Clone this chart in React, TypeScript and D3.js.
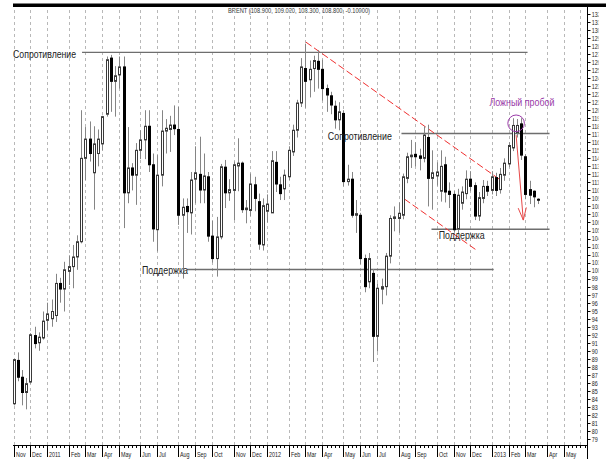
import React from 'react';
import * as d3 from 'd3';

const W = 606;
const H = 459;

const TITLE = 'BRENT (108.900, 109.020, 108.300, 108.800, -0.10000)';
const FIRST_WEEK = new Date(2010, 10, 7); // weekly bars, Sunday open

const opens = [
  83.4, 88.8, 86.7, 84.8, 86.1, 91.9, 91.0, 91.6, 93.8, 94.0,
  94.4, 98.4, 97.7, 99.9, 100.5, 101.7, 103.6, 114.0, 116.4, 112.2,
  114.6, 115.8, 119.5, 126.5, 123.6, 124.4, 125.4, 109.7, 112.8, 111.9,
  115.0, 116.3, 118.0, 113.2, 105.1, 111.9, 117.4, 117.6, 118.15, 117.6,
  106.9, 108.0, 107.2, 111.4, 112.0, 110.05, 111.7, 104.3, 101.5, 104.2,
  112.9, 109.7, 110.0, 113.05, 113.4, 107.6, 107.5, 110.7, 108.6, 103.2,
  107.4, 107.2, 113.5, 110.7, 110.2, 111.7, 114.8, 117.5, 120.9, 125.2,
  123.8, 125.2, 126.1, 125.1, 122.7, 121.8, 120.5, 118.8, 119.6, 111.1,
  111.4, 106.9, 106.9, 101.5, 98.6, 99.65, 91.8, 97.7, 98.0, 101.8,
  106.5, 106.5, 106.9, 111.5, 114.2, 114.5, 114.3, 114.0, 116.6, 111.5,
  111.8, 109.9, 113.2, 109.9, 109.5, 105.2, 108.4, 109.6, 111.4, 110.6,
  106.8, 109.0, 110.5, 110.0, 111.6, 110.1, 111.9, 113.3, 115.3, 117.2,
  118.3, 114.2, 110.1, 109.9, 108.9,
];
const highs = [
  89.0, 89.8, 87.6, 86.6, 92.2, 93.0, 92.3, 94.9, 96.0, 96.4,
  99.6, 99.1, 101.1, 101.9, 103.2, 104.4, 120.0, 117.9, 118.6, 118.0,
  117.6, 119.3, 126.7, 126.9, 125.5, 126.7, 126.7, 117.9, 113.4, 115.9,
  117.5, 120.0, 120.0, 114.6, 114.4, 120.0, 118.9, 119.3, 120.6, 120.4,
  109.0, 109.0, 112.3, 115.5, 116.7, 114.6, 112.3, 106.2, 106.7, 113.3,
  113.8, 111.4, 113.6, 116.5, 113.6, 108.8, 112.1, 111.7, 109.6, 109.0,
  109.5, 114.9, 114.9, 111.7, 112.6, 115.5, 118.2, 121.3, 126.5, 128.3,
  126.2, 126.8, 127.5, 126.3, 123.2, 122.3, 121.2, 121.0, 120.0, 113.2,
  112.3, 108.8, 107.2, 102.0, 102.2, 100.2, 98.4, 99.0, 102.2, 106.9,
  108.0, 108.5, 112.1, 114.7, 116.3, 116.0, 115.2, 118.0, 118.2, 115.0,
  113.5, 115.0, 114.2, 111.0, 109.9, 110.2, 110.5, 112.5, 112.4, 111.0,
  109.8, 111.3, 111.2, 112.4, 112.2, 112.8, 114.0, 116.0, 119.0, 118.9,
  119.0, 114.5, 111.2, 110.0, 109.02,
];
const lows = [
  83.2, 86.2, 83.2, 82.7, 85.9, 90.3, 90.0, 91.4, 92.6, 93.0,
  93.6, 96.0, 94.9, 98.2, 97.8, 100.1, 103.4, 111.3, 113.6, 107.6,
  113.0, 115.0, 119.2, 119.8, 119.2, 122.7, 105.3, 108.4, 110.0, 108.2,
  113.9, 113.9, 112.3, 103.6, 102.4, 110.5, 114.6, 114.8, 116.9, 105.7,
  99.0, 104.7, 104.5, 108.4, 108.4, 108.4, 103.6, 101.0, 99.25, 103.9,
  107.8, 108.7, 106.3, 109.9, 107.2, 105.9, 106.8, 107.4, 102.6, 102.5,
  106.0, 107.2, 109.8, 108.8, 108.8, 111.3, 114.3, 116.6, 120.4, 120.3,
  121.6, 122.3, 122.7, 121.2, 119.8, 119.5, 117.7, 117.5, 110.5, 110.6,
  106.6, 104.7, 100.8, 97.3, 97.8, 88.6, 89.9, 95.8, 96.9, 100.9,
  104.9, 104.7, 106.4, 110.9, 112.8, 113.0, 112.5, 113.5, 108.0, 107.6,
  110.6, 108.6, 108.5, 107.8, 104.8, 104.6, 107.6, 108.9, 109.9, 106.3,
  106.2, 108.4, 109.3, 109.5, 109.3, 109.6, 111.2, 112.9, 114.9, 116.6,
  113.8, 108.9, 108.3, 107.9, 108.3,
];
const closes = [
  88.9, 86.7, 84.8, 85.9, 92.0, 90.9, 91.7, 93.7, 94.6, 94.9,
  98.4, 97.7, 100.1, 100.5, 101.7, 103.6, 114.0, 116.4, 114.6, 115.8,
  116.4, 119.2, 126.3, 123.6, 124.3, 125.4, 109.7, 112.8, 111.9, 115.0,
  116.3, 118.0, 113.2, 105.2, 111.9, 117.4, 117.75, 118.15, 117.7, 106.9,
  107.9, 107.35, 111.3, 112.2, 110.05, 111.8, 104.3, 101.5, 104.2, 112.95,
  109.7, 110.1, 113.2, 113.4, 107.6, 107.8, 110.8, 109.0, 103.3, 108.1,
  108.3, 113.7, 110.8, 109.6, 111.9, 115.0, 117.5, 120.9, 125.4, 123.6,
  125.1, 126.2, 125.1, 122.7, 121.9, 120.65, 118.8, 119.8, 111.1, 111.4,
  106.9, 107.1, 101.5, 98.0, 101.5, 91.8, 97.8, 98.0, 101.8, 106.5,
  106.7, 107.15, 111.7, 114.2, 114.4, 114.2, 114.0, 116.9, 111.5, 112.2,
  112.3, 113.0, 109.8, 109.5, 105.1, 109.4, 109.8, 111.4, 110.5, 106.8,
  109.1, 110.5, 109.9, 111.7, 110.0, 112.0, 113.4, 115.6, 118.1, 118.1,
  114.4, 109.5, 109.4, 109.2, 108.8,
];

const priceTicks = d3.range(79, 133);

// horizontal levels: price, from bar, to bar
const levelPrices = [127.22, 100.14, 117.1, 105.15];
const levelFrom = [16.2, 41.0, 91.7, 98.8];
const levelTo = [121.5, 113.5, 126.7, 126.7];

// annotation texts: label, bar position, baseline price
const noteTexts = ['Сопротивление', 'Поддержка', 'Сопротивление', 'Поддержка'];
const noteBars = [-0.1, 30.35, 74.3, 100.5];
const notePrices = [126.5, 99.58, 116.3, 104.0];
const noteWidths = [63, 46, 64, 46];

// red dashed channel
const channelUpper = [[69.1, 128.5], [115.1, 111.3]];
const channelLower = [[92.4, 108.93], [109.7, 102.45]];
// false breakout
const fakeText = 'Ложный пробой';
const fakeCircle = [118.8, 118.37];
const fakeTextPos = [112.5, 120.47];
const arrowFrom = [118.8, 116.9];
const arrowTo = [120.5, 106.3];

export default function App() {
  const x = d3.scaleLinear().domain([0, 130]).range([13.5, 563.5]);
  const y = d3.scaleLinear().domain([79, 132]).range([439, 14]);
  const crisp = (v: number) => Math.round(v) + 0.5;

  const nBars = opens.length;
  const dates = d3.range(136).map((i) => d3.timeWeek.offset(FIRST_WEEK, i));
  const monthStarts: number[] = [];
  dates.forEach((d, i) => {
    if (i === 0 || d.getMonth() !== dates[i - 1].getMonth()) monthStarts.push(i);
  });
  const fmtMon = d3.timeFormat('%b');
  const monthLabel = (d: Date) => (d.getMonth() === 0 ? String(d.getFullYear()) : fmtMon(d));

  const axisX = 587;
  const axisY = 445;
  const font = 'Liberation Sans, Arial, sans-serif';

  const ax = x(arrowTo[0]);
  const ay = y(arrowTo[1]);
  const ang = Math.atan2(y(arrowTo[1]) - y(arrowFrom[1]), x(arrowTo[0]) - x(arrowFrom[0]));
  const headL = 13;
  const headA = 0.32;
  const h1 = [ax - headL * Math.cos(ang - headA), ay - headL * Math.sin(ang - headA)];
  const h2 = [ax - headL * Math.cos(ang + headA), ay - headL * Math.sin(ang + headA)];

  return (
    <svg
      width={W}
      height={H}
      style={{ position: 'absolute', left: 0, top: 0, background: '#fff' }}
      fontFamily={font}
    >
      <defs>
        <clipPath id="ylab">
          <rect x={0} y={0} width={598.5} height={H} />
        </clipPath>
      </defs>
      <rect x={0} y={0} width={W} height={H} fill="#fff" />
      {/* top bar */}
      <rect x={13} y={3.5} width={W - 13} height={3.5} fill="#000" />
      {/* title */}
      <text x={228} y={13.3} fontSize={7} fill="#333" textLength={142} lengthAdjust="spacingAndGlyphs">
        {TITLE}
      </text>

      {/* vertical grid */}
      {monthStarts
        .filter((i) => x(i) < axisX - 2)
        .map((i) => (
          <line
            key={'g' + i}
            x1={crisp(x(i))}
            x2={crisp(x(i))}
            y1={10}
            y2={axisY}
            stroke="#b8b8b8"
            strokeDasharray="3,3"
            strokeWidth={1}
          />
        ))}

      {/* levels */}
      {levelPrices.map((p, k) => (
        <line
          key={'lv' + k}
          x1={x(levelFrom[k])}
          x2={x(levelTo[k])}
          y1={y(p)}
          y2={y(p)}
          stroke="#6e6e6e"
          strokeWidth={1.4}
        />
      ))}

      {/* red channel */}
      {[channelUpper, channelLower].map((seg, k) => (
        <line
          key={'ch' + k}
          x1={x(seg[0][0])}
          y1={y(seg[0][1])}
          x2={x(seg[1][0])}
          y2={y(seg[1][1])}
          stroke="#f03030"
          strokeWidth={1}
          strokeDasharray="7,3"
        />
      ))}

      {/* candles */}
      {d3.range(nBars).map((i) => {
        const cx = crisp(x(i));
        const o = opens[i];
        const c = closes[i];
        const up = c >= o;
        const top = y(Math.max(o, c));
        const bot = y(Math.min(o, c));
        const bh = Math.max(1, bot - top);
        return (
          <g key={'c' + i}>
            <line x1={cx} x2={cx} y1={y(highs[i])} y2={y(lows[i])} stroke="#858585" strokeWidth={1} />
            {up ? (
              <rect x={cx - 1} y={top} width={2} height={bh} fill="#fff" stroke="#3a3a3a" strokeWidth={1} />
            ) : (
              <rect x={cx - 1.5} y={top - 0.5} width={3} height={bh + 1} fill="#000" />
            )}
          </g>
        );
      })}

      {/* annotations */}
      {noteTexts.map((t, k) => (
        <text
          key={'nt' + k}
          x={x(noteBars[k])}
          y={y(notePrices[k])}
          fontSize={10.5}
          fill="#222"
          textLength={noteWidths[k]}
          lengthAdjust="spacingAndGlyphs"
        >
          {t}
        </text>
      ))}

      {/* false breakout */}
      <circle cx={x(fakeCircle[0])} cy={y(fakeCircle[1])} r={8.3} fill="none" stroke="#9a3aa8" strokeWidth={1} />
      <text
        x={x(fakeTextPos[0])}
        y={y(fakeTextPos[1])}
        fontSize={10.5}
        fill="#9a3aa8"
        textLength={65}
        lengthAdjust="spacingAndGlyphs"
      >
        {fakeText}
      </text>
      <line x1={x(arrowFrom[0])} y1={y(arrowFrom[1])} x2={ax} y2={ay} stroke="#e84848" strokeWidth={1} />
      <polyline
        points={`${h1[0]},${h1[1]} ${ax},${ay} ${h2[0]},${h2[1]}`}
        fill="none"
        stroke="#e84848"
        strokeWidth={1}
      />

      {/* bottom axis */}
      <line x1={13} x2={axisX} y1={axisY + 0.5} y2={axisY + 0.5} stroke="#000" strokeWidth={1} />
      {d3.range(136)
        .filter((i) => x(i) < axisX - 1)
        .map((i) => (
          <line key={'mt' + i} x1={crisp(x(i))} x2={crisp(x(i))} y1={axisY} y2={axisY + 3} stroke="#000" />
        ))}
      {monthStarts
        .filter((i) => x(i) < axisX - 8)
        .map((i) => (
          <g key={'ml' + i}>
            <line x1={crisp(x(i))} x2={crisp(x(i))} y1={axisY} y2={axisY + 12} stroke="#000" />
            <text
              transform={`translate(${crisp(x(i)) + 1.5},456.5) scale(0.72,1)`}
              fontSize={7.5}
              fill="#222"
            >
              {monthLabel(dates[i])}
            </text>
          </g>
        ))}

      {/* right axis */}
      <line x1={axisX + 0.5} x2={axisX + 0.5} y1={7} y2={H} stroke="#000" strokeWidth={1} />
      <g clipPath="url(#ylab)">
        {priceTicks.map((v) => (
          <g key={'yt' + v}>
            <line x1={axisX} x2={axisX + 3.5} y1={crisp(y(v))} y2={crisp(y(v))} stroke="#000" />
            <text
              transform={`translate(591.7,${y(v)}) scale(0.72,1)`}
              fontSize={7.5}
              fill="#222"
              dominantBaseline="central"
            >
              {v}
            </text>
          </g>
        ))}
      </g>
    </svg>
  );
}
